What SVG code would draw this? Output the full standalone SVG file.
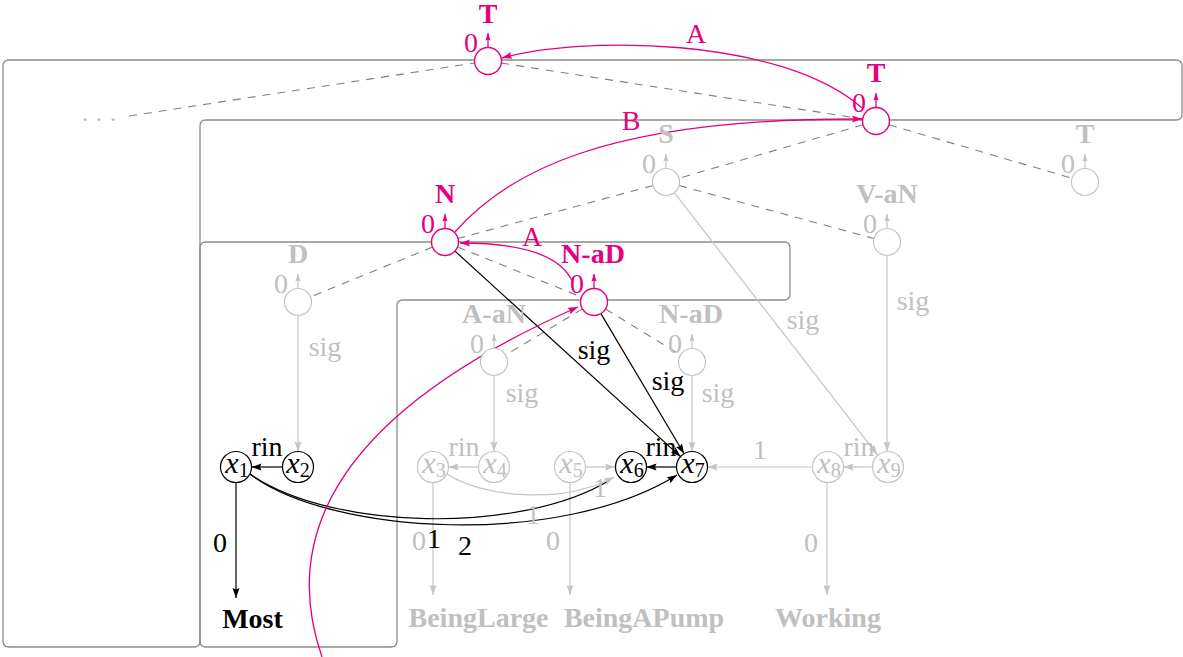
<svg xmlns="http://www.w3.org/2000/svg" width="1183" height="657" viewBox="0 0 1183 657">
<style>
text{font-family:"Liberation Serif","Times New Roman",serif;font-size:28px;text-anchor:middle}
.b{font-weight:bold}
.k{fill:#000}
.g{fill:#c0c0c0}
.p{fill:#e6007e}
.box{fill:none;stroke:#8c8c8c;stroke-width:1.3}
.dash{fill:none;stroke:#808080;stroke-width:1.1;stroke-dasharray:8 7}
.eg{fill:none;stroke:#c4c4c4;stroke-width:1.2}
.ek{fill:none;stroke:#000;stroke-width:1.2}
.ep{fill:none;stroke:#e6007e;stroke-width:1.3}
.ng{fill:#fff;stroke:#c4c4c4;stroke-width:1.2}
.nk{fill:#fff;stroke:#000;stroke-width:1.2}
.np{fill:#fff;stroke:#e6007e;stroke-width:1.4}
.xi{font-style:italic;font-size:30px}
.sub{font-size:20px}
</style>
<defs>
<marker id="ak" viewBox="0 0 10 8" refX="10" refY="4" markerWidth="10" markerHeight="8" markerUnits="userSpaceOnUse" orient="auto"><path d="M0,0.5 L10,4 L0,7.5 L1.5,4 Z" fill="#000"/></marker>
<marker id="ag" viewBox="0 0 10 8" refX="10" refY="4" markerWidth="10" markerHeight="8" markerUnits="userSpaceOnUse" orient="auto"><path d="M0,0.5 L10,4 L0,7.5 L1.5,4 Z" fill="#c4c4c4"/></marker>
<marker id="ap" viewBox="0 0 10 8" refX="10" refY="4" markerWidth="10" markerHeight="8" markerUnits="userSpaceOnUse" orient="auto"><path d="M0,0.5 L10,4 L0,7.5 L1.5,4 Z" fill="#e6007e"/></marker>
<marker id="sg" viewBox="0 0 10 8" refX="10" refY="4" markerWidth="7.5" markerHeight="6" markerUnits="userSpaceOnUse" orient="auto"><path d="M0,0.5 L10,4 L0,7.5 L1.5,4 Z" fill="#c4c4c4"/></marker>
<marker id="sp" viewBox="0 0 10 8" refX="10" refY="4" markerWidth="7.5" markerHeight="6" markerUnits="userSpaceOnUse" orient="auto"><path d="M0,0.5 L10,4 L0,7.5 L1.5,4 Z" fill="#e6007e"/></marker>
</defs>
<rect width="1183" height="657" fill="#fff"/>

<g id="scopes">
<path class="box" d="M9,60 H1176 Q1182,60 1182,66 V114 Q1182,120 1176,120 H206 Q200,120 200,126 V641 Q200,647 194,647 H9 Q3,647 3,641 V66 Q3,60 9,60 Z"/>
<path class="box" d="M206,242 H784 Q790,242 790,248 V294 Q790,300 784,300 H403 Q397,300 397,306 V641 Q397,647 391,647 H206 Q200,647 200,641 V248 Q200,242 206,242 Z"/>
</g>

<g id="connectors">
<path class="dash" d="M129,116 L474.7,63"/>
<path class="dash" d="M501.3,63.1 L862.7,118.9"/>
<path class="dash" d="M863,124.8 L679,178.2"/>
<path class="dash" d="M889,124.8 L1072,178.2"/>
<path class="dash" d="M653,185.5 L458,238.5"/>
<path class="dash" d="M679,185.5 L874,238.5"/>
<path class="dash" d="M432.5,247.1 L310.5,296.9"/>
<path class="dash" d="M457.5,247 L581.5,297"/>
<path class="dash" d="M582.4,309 L505.6,355"/>
<path class="dash" d="M605.5,309 L680.5,355"/>
<path class="eg" d="M298,315.5 V451.5" marker-end="url(#ag)"/>
<path class="eg" d="M494,375.5 V451.5" marker-end="url(#ag)"/>
<path class="eg" d="M692,375.5 V451.5" marker-end="url(#ag)"/>
<path class="eg" d="M887,255.5 V451.5" marker-end="url(#ag)"/>
<path class="eg" d="M674.3,192.7 L877.5,454.8" marker-end="url(#ag)"/>
<path class="eg" d="M478.5,467 H448.5" marker-end="url(#ag)"/>
<path class="eg" d="M871.5,467 H843.5" marker-end="url(#ag)"/>
<path class="eg" d="M811.5,467 H707.5" marker-end="url(#ag)"/>
<path class="eg" d="M585.5,467 H615" marker-end="url(#ag)"/>
<path class="eg" d="M433,482.5 V595" marker-end="url(#ag)"/>
<path class="eg" d="M570,482.5 V595" marker-end="url(#ag)"/>
<path class="eg" d="M827,482.5 V595" marker-end="url(#ag)"/>
<path class="ek" d="M282.5,467 H251.5" marker-end="url(#ak)"/>
<path class="ek" d="M676.5,467 H646.5" marker-end="url(#ak)"/>
<path class="ek" d="M236,482.5 V598" marker-end="url(#ak)"/>
<path class="ek" d="M455,251.1 L680.5,456.6" marker-end="url(#ak)"/>
<path class="ek" d="M600.9,313.6 L684.1,453.7" marker-end="url(#ak)"/>
<path class="ek" d="M250,474 C330,530 520,535 610,480"/>
<path class="ek" d="M250,474 C330,535 560,548 677,475" marker-end="url(#ak)"/>
<path class="eg" d="M447,474 C480,496 560,506 614,477" marker-end="url(#ag)"/>
<path class="ep" d="M862,108 C780,36 580,36 502,58" marker-end="url(#ap)"/>
<path class="ep" d="M455,232 C505,175 600,118 862,119" marker-end="url(#ap)"/>
<path class="ep" d="M573,283 C562,256 522,243 460,243" marker-end="url(#ap)"/>
<path class="ep" d="M322,657 C278,530 345,410 578,307" marker-end="url(#ap)"/>
<text class="p" x="696" y="43">A</text>
<text class="p" x="631" y="130">B</text>
<text class="p" x="532" y="246">A</text>
<text class="g" x="325" y="356">sig</text>
<text class="g" x="522" y="402">sig</text>
<text class="g" x="718" y="402">sig</text>
<text class="g" x="913" y="310">sig</text>
<text class="g" x="803" y="329">sig</text>
<text class="k" x="594" y="359">sig</text>
<text class="k" x="668" y="390">sig</text>
<text class="k" x="267" y="456">rin</text>
<text class="k" x="661" y="456">rin</text>
<text class="g" x="464" y="456">rin</text>
<text class="g" x="859" y="456">rin</text>
<text class="g" x="760" y="459">1</text>
<text class="g" x="533" y="524">1</text>
<text class="g" x="600" y="497">1</text>
<text class="k" x="220" y="552">0</text>
<text class="g" x="419" y="550">0</text>
<text class="k" x="434" y="548">1</text>
<text class="k" x="465" y="555">2</text>
<text class="g" x="553" y="550">0</text>
<text class="g" x="811" y="552">0</text>
<text style="font-size:24px;fill:#b8b8b8" x="99" y="127">· · ·</text>
</g>

<g id="Ttop"><circle class="np" cx="488" cy="61" r="13.5"/><path class="ep" d="M488,47.5 V33" marker-end="url(#sp)"/><text class="b p" x="488" y="23">T</text><text class="p" x="471" y="52">0</text></g>
<g id="Tright"><circle class="np" cx="876" cy="121" r="13.5"/><path class="ep" d="M876,107.5 V93" marker-end="url(#sp)"/><text class="b p" x="876" y="82">T</text><text class="p" x="859" y="112">0</text></g>
<g id="S"><circle class="ng" cx="666" cy="182" r="13.5"/><path class="eg" d="M666,168.5 V154" marker-end="url(#sg)"/><text class="b g" x="666" y="143">S</text><text class="g" x="649" y="173">0</text></g>
<g id="Tgray"><circle class="ng" cx="1085" cy="182" r="13.5"/><path class="eg" d="M1085,168.5 V154" marker-end="url(#sg)"/><text class="b g" x="1085" y="143">T</text><text class="g" x="1068" y="173">0</text></g>
<g id="VaN"><circle class="ng" cx="887" cy="242" r="13.5"/><path class="eg" d="M887,228.5 V214" marker-end="url(#sg)"/><text class="b g" x="887" y="203">V-aN</text><text class="g" x="870" y="233">0</text></g>
<g id="N"><circle class="np" cx="445" cy="242" r="13.5"/><path class="ep" d="M445,228.5 V214" marker-end="url(#sp)"/><text class="b p" x="445" y="203">N</text><text class="p" x="428" y="233">0</text></g>
<g id="NaDp"><circle class="np" cx="594" cy="302" r="13.5"/><path class="ep" d="M594,288.5 V274" marker-end="url(#sp)"/><text class="b p" x="593" y="263">N-aD</text><text class="p" x="577" y="293">0</text></g>
<g id="D"><circle class="ng" cx="298" cy="302" r="13.5"/><path class="eg" d="M298,288.5 V274" marker-end="url(#sg)"/><text class="b g" x="298" y="263">D</text><text class="g" x="281" y="293">0</text></g>
<g id="AaN"><circle class="ng" cx="494" cy="362" r="13.5"/><path class="eg" d="M494,348.5 V334" marker-end="url(#sg)"/><text class="b g" x="494" y="323">A-aN</text><text class="g" x="477" y="353">0</text></g>
<g id="NaDg"><circle class="ng" cx="692" cy="362" r="13.5"/><path class="eg" d="M692,348.5 V334" marker-end="url(#sg)"/><text class="b g" x="691" y="323">N-aD</text><text class="g" x="675" y="353">0</text></g>

<g id="x1"><circle class="nk" cx="236" cy="467" r="15.5"/><text class="k" x="237" y="473"><tspan class="xi">x</tspan><tspan class="sub" dy="4">1</tspan></text></g>
<g id="x2"><circle class="nk" cx="298" cy="467" r="15.5"/><text class="k" x="298" y="473"><tspan class="xi">x</tspan><tspan class="sub" dy="4">2</tspan></text></g>
<g id="x3"><circle class="ng" cx="433" cy="467" r="15.5"/><text class="g" x="434" y="473"><tspan class="xi">x</tspan><tspan class="sub" dy="4">3</tspan></text></g>
<g id="x4"><circle class="ng" cx="494" cy="467" r="15.5"/><text class="g" x="495" y="473"><tspan class="xi">x</tspan><tspan class="sub" dy="4">4</tspan></text></g>
<g id="x5"><circle class="ng" cx="570" cy="467" r="15.5"/><text class="g" x="571" y="473"><tspan class="xi">x</tspan><tspan class="sub" dy="4">5</tspan></text></g>
<g id="x6"><circle class="nk" cx="631" cy="467" r="15.5"/><text class="k" x="632" y="473"><tspan class="xi">x</tspan><tspan class="sub" dy="4">6</tspan></text></g>
<g id="x7"><circle class="nk" cx="692" cy="467" r="15.5"/><text class="k" x="693" y="473"><tspan class="xi">x</tspan><tspan class="sub" dy="4">7</tspan></text></g>
<g id="x8"><circle class="ng" cx="828" cy="467" r="15.5"/><text class="g" x="829" y="473"><tspan class="xi">x</tspan><tspan class="sub" dy="4">8</tspan></text></g>
<g id="x9"><circle class="ng" cx="888" cy="467" r="15.5"/><text class="g" x="889" y="473"><tspan class="xi">x</tspan><tspan class="sub" dy="4">9</tspan></text></g>

<g id="Most"><text class="b k" x="252.5" y="628">Most</text></g>
<g id="BeingLarge"><text class="b g" x="478.5" y="627">BeingLarge</text></g>
<g id="BeingAPump"><text class="b g" x="644" y="627">BeingAPump</text></g>
<g id="Working"><text class="b g" x="828" y="627">Working</text></g>
</svg>
